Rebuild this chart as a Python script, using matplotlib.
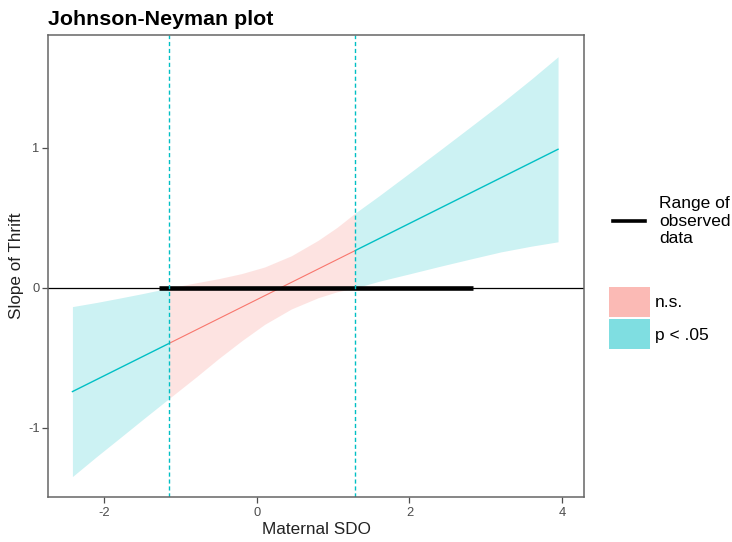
import numpy as np
import matplotlib.pyplot as plt
from matplotlib.lines import Line2D
from matplotlib.patches import Patch

plt.rcParams['font.family'] = ['Liberation Sans', 'DejaVu Sans']

# values
cyan = "#00BFC4"
red = "#F8766D"

# Johnson-Neyman points
jn_points = [-1.15, 1.29]
# range of observed moderator values
observed_range = [-1.285, 2.835]

# confidence band, p < .05 on the left
left_x = [-2.42, -2.1, -1.8, -1.5, -1.15]
left_upper = [-0.133, -0.103, -0.072, -0.040, 0.0]
left_lower = [-1.347, -1.203, -1.072, -0.940, -0.788]

# n.s. region
mid_x = [-1.15, -0.8, -0.5, -0.2, 0.1, 0.45, 0.8, 1.05, 1.29]
mid_upper = [0.0, 0.037, 0.067, 0.103, 0.150, 0.230, 0.340, 0.433, 0.536]
mid_lower = [-0.788, -0.637, -0.503, -0.377, -0.260, -0.150, -0.070, -0.027, 0.0]

# p < .05 on the right
right_x = [1.29, 1.6, 2.0, 2.4, 2.8, 3.2, 3.6, 3.948]
right_upper = [0.536, 0.658, 0.821, 0.985, 1.151, 1.318, 1.493, 1.652]
right_lower = [0.0, 0.048, 0.101, 0.155, 0.207, 0.258, 0.299, 0.330]

# simple slope line
slope_x = [-2.42, -1.15, 1.29, 3.948]
slope_y = [-0.74, -0.395, 0.268, 0.991]

fig = plt.figure(figsize=(7.32, 5.42), dpi=100)
ax = fig.add_axes([0.0656, 0.083, 0.7324, 0.8524])

ax.fill_between(left_x, left_lower, left_upper, color=cyan, alpha=0.2, linewidth=0)
ax.fill_between(mid_x, mid_lower, mid_upper, color=red, alpha=0.2, linewidth=0)
ax.fill_between(right_x, right_lower, right_upper, color=cyan, alpha=0.2, linewidth=0)

ax.plot(slope_x[0:2], slope_y[0:2], color=cyan, linewidth=1.0)
ax.plot(slope_x[1:3], slope_y[1:3], color=red, linewidth=0.8)
ax.plot(slope_x[2:4], slope_y[2:4], color=cyan, linewidth=1.0)

ax.axhline(0, color="black", linewidth=0.9)
ax.plot(observed_range, [0, 0], color="black", linewidth=3.3, solid_capstyle="butt")
for jn in jn_points:
    ax.axvline(jn, color=cyan, linewidth=1.0, linestyle=(0, (3, 2)))

ax.set_xlim(-2.74, 4.29)
ax.set_ylim(-1.493, 1.807)
ax.set_xticks([-2, 0, 2, 4])
ax.set_yticks([-1, 0, 1])
ax.set_xticklabels(["-2", "0", "2", "4"])
ax.set_yticklabels(["-1", "0", "1"])
ax.tick_params(colors="#4D4D4D", labelsize=9.3, length=4, width=0.9)
ax.tick_params(axis="y", pad=2)
for sp in ax.spines.values():
    sp.set_color("#666666")
    sp.set_linewidth(1.1)

ax.set_xlabel("Maternal SDO", fontsize=12.3, color="#222222", labelpad=2)
ax.set_ylabel("Slope of Thrift", fontsize=12.3, color="#222222", labelpad=3)
ax.set_title("Johnson-Neyman plot", fontsize=15.4, fontweight="bold", loc="left", pad=7)

# legends on the right
leg1 = fig.legend(handles=[Line2D([], [], color="black", linewidth=2.6)],
                  labels=["Range of\nobserved\ndata"],
                  loc="center left", bbox_to_anchor=(0.8374, 0.592),
                  frameon=False, fontsize=12.5, handlelength=1.85,
                  handletextpad=0.8, borderpad=0, borderaxespad=0)
leg2 = fig.legend(handles=[Patch(facecolor=red, alpha=0.5, edgecolor="none"),
                           Patch(facecolor=cyan, alpha=0.5, edgecolor="none")],
                  labels=["n.s.", "p < .05"],
                  loc="center left", bbox_to_anchor=(0.832, 0.4133),
                  frameon=False, fontsize=12.5, handlelength=2.36, handleheight=2.275,
                  labelspacing=0.17, handletextpad=0.27, borderpad=0, borderaxespad=0)

fig.savefig("out.png", dpi=100)
